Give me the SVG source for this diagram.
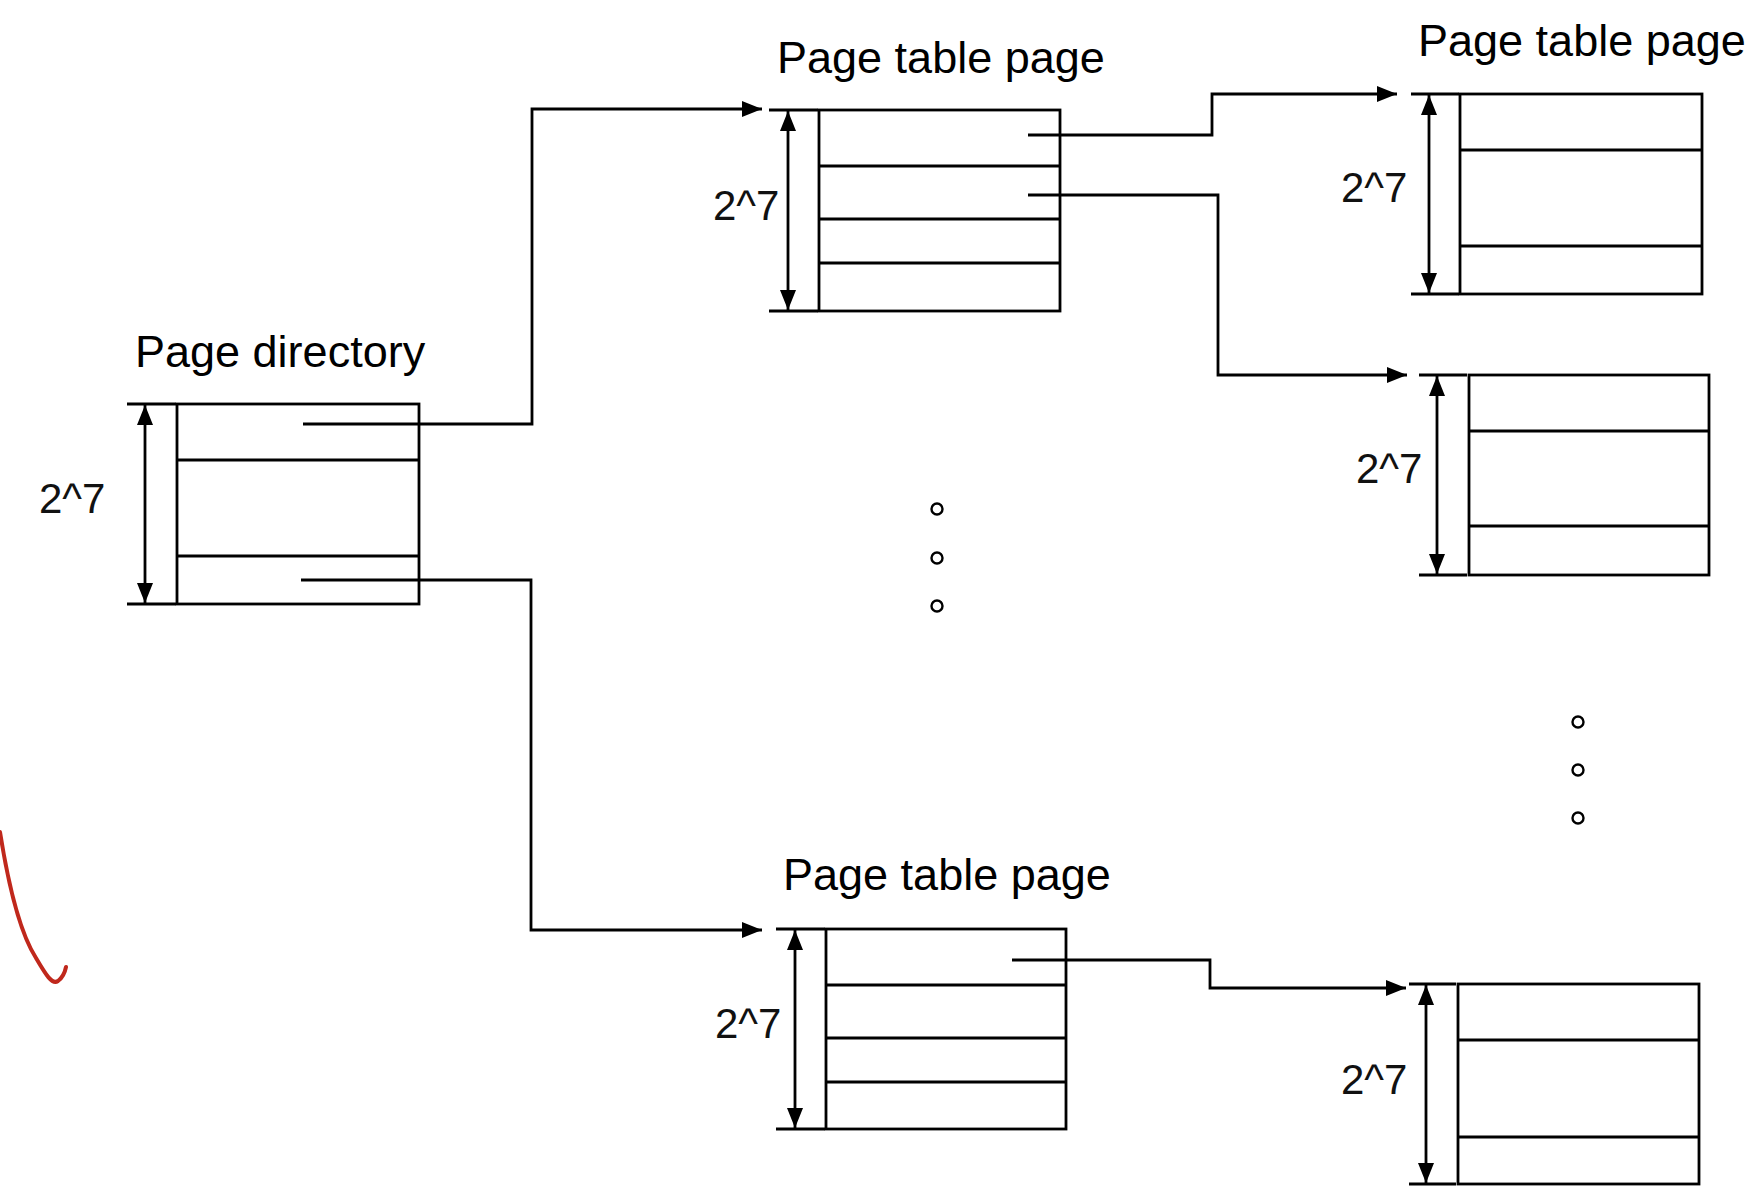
<svg xmlns="http://www.w3.org/2000/svg" width="1760" height="1204" viewBox="0 0 1760 1204">
<defs>
<marker id="ah" markerUnits="userSpaceOnUse" markerWidth="22" markerHeight="16" refX="20" refY="8" orient="auto-start-reverse"><path d="M0,0 L20,8 L0,16 z" fill="#000"/></marker>
<style>
.box{fill:#fff;stroke:#000;stroke-width:2.8}
.ln{fill:none;stroke:#000;stroke-width:2.8}
.dim{fill:none;stroke:#000;stroke-width:2.8;marker-start:url(#ah);marker-end:url(#ah)}
.con{fill:none;stroke:#000;stroke-width:2.8;marker-end:url(#ah)}
.ttl{font-family:"Liberation Sans",Arial,Helvetica,sans-serif;font-size:45px;fill:#000}
.lbl{font-family:"Liberation Sans",Arial,Helvetica,sans-serif;font-size:42px;fill:#111}
.dot{fill:#fff;stroke:#000;stroke-width:2.4}
</style>
</defs>
<rect width="1760" height="1204" fill="#fff"/>

<g id="page-directory">
<text class="ttl" x="135" y="367">Page directory</text>
<rect class="box" x="177" y="404" width="242" height="200"/>
<line class="ln" x1="177" y1="460" x2="419" y2="460"/>
<line class="ln" x1="177" y1="556" x2="419" y2="556"/>
<line class="ln" x1="127" y1="404" x2="176" y2="404"/>
<line class="ln" x1="127" y1="604" x2="176" y2="604"/>
<line class="dim" x1="145" y1="405" x2="145" y2="603"/>
<text class="lbl" x="39" y="513">2^7</text>
</g>

<g id="ptp-1">
<text class="ttl" x="777" y="73">Page table page</text>
<rect class="box" x="819" y="110" width="241" height="201"/>
<line class="ln" x1="819" y1="166" x2="1060" y2="166"/>
<line class="ln" x1="819" y1="219" x2="1060" y2="219"/>
<line class="ln" x1="819" y1="263" x2="1060" y2="263"/>
<line class="ln" x1="769" y1="110" x2="818" y2="110"/>
<line class="ln" x1="769" y1="311" x2="818" y2="311"/>
<line class="dim" x1="788" y1="111" x2="788" y2="310"/>
<text class="lbl" x="713" y="220">2^7</text>
</g>

<g id="ptp-2">
<text class="ttl" x="1418" y="56">Page table page</text>
<rect class="box" x="1460" y="94" width="242" height="200"/>
<line class="ln" x1="1460" y1="150" x2="1702" y2="150"/>
<line class="ln" x1="1460" y1="246" x2="1702" y2="246"/>
<line class="ln" x1="1411" y1="94" x2="1459" y2="94"/>
<line class="ln" x1="1411" y1="294" x2="1459" y2="294"/>
<line class="dim" x1="1429" y1="95" x2="1429" y2="293"/>
<text class="lbl" x="1341" y="202">2^7</text>
</g>

<g id="ptp-3">
<rect class="box" x="1469" y="375" width="240" height="200"/>
<line class="ln" x1="1469" y1="431" x2="1709" y2="431"/>
<line class="ln" x1="1469" y1="526" x2="1709" y2="526"/>
<line class="ln" x1="1419" y1="375" x2="1467" y2="375"/>
<line class="ln" x1="1419" y1="575" x2="1467" y2="575"/>
<line class="dim" x1="1437" y1="376" x2="1437" y2="574"/>
<text class="lbl" x="1356" y="483">2^7</text>
</g>

<g id="ptp-4">
<text class="ttl" x="783" y="890">Page table page</text>
<rect class="box" x="826" y="929" width="240" height="200"/>
<line class="ln" x1="826" y1="985" x2="1066" y2="985"/>
<line class="ln" x1="826" y1="1038" x2="1066" y2="1038"/>
<line class="ln" x1="826" y1="1082" x2="1066" y2="1082"/>
<line class="ln" x1="776" y1="929" x2="825" y2="929"/>
<line class="ln" x1="776" y1="1129" x2="825" y2="1129"/>
<line class="dim" x1="795" y1="930" x2="795" y2="1128"/>
<text class="lbl" x="715" y="1038">2^7</text>
</g>

<g id="ptp-5">
<rect class="box" x="1458" y="984" width="241" height="200"/>
<line class="ln" x1="1458" y1="1040" x2="1699" y2="1040"/>
<line class="ln" x1="1458" y1="1137" x2="1699" y2="1137"/>
<line class="ln" x1="1409" y1="984" x2="1456" y2="984"/>
<line class="ln" x1="1409" y1="1184" x2="1456" y2="1184"/>
<line class="dim" x1="1426" y1="985" x2="1426" y2="1183"/>
<text class="lbl" x="1341" y="1094">2^7</text>
</g>

<g id="ellipsis-mid">
<circle class="dot" cx="937" cy="509" r="5.5"/>
<circle class="dot" cx="937" cy="558" r="5.5"/>
<circle class="dot" cx="937" cy="606" r="5.5"/>
</g>
<g id="ellipsis-right">
<circle class="dot" cx="1578" cy="722" r="5.5"/>
<circle class="dot" cx="1578" cy="770" r="5.5"/>
<circle class="dot" cx="1578" cy="818" r="5.5"/>
</g>

<g id="connectors">
<polyline class="con" points="303,424 532,424 532,109 762,109"/>
<polyline class="con" points="301,580 531,580 531,930 762,930"/>
<polyline class="con" points="1028,135 1212,135 1212,94 1397,94"/>
<polyline class="con" points="1028,195 1218,195 1218,375 1407,375"/>
<polyline class="con" points="1012,960 1210,960 1210,988 1406,988"/>
</g>

<path d="M0,832 C6,870 18,930 36,958 C46,975 52,985 58,981 C62,978 65,972 66,967" fill="none" stroke="#c0281c" stroke-width="4" stroke-linecap="round"/>
</svg>
